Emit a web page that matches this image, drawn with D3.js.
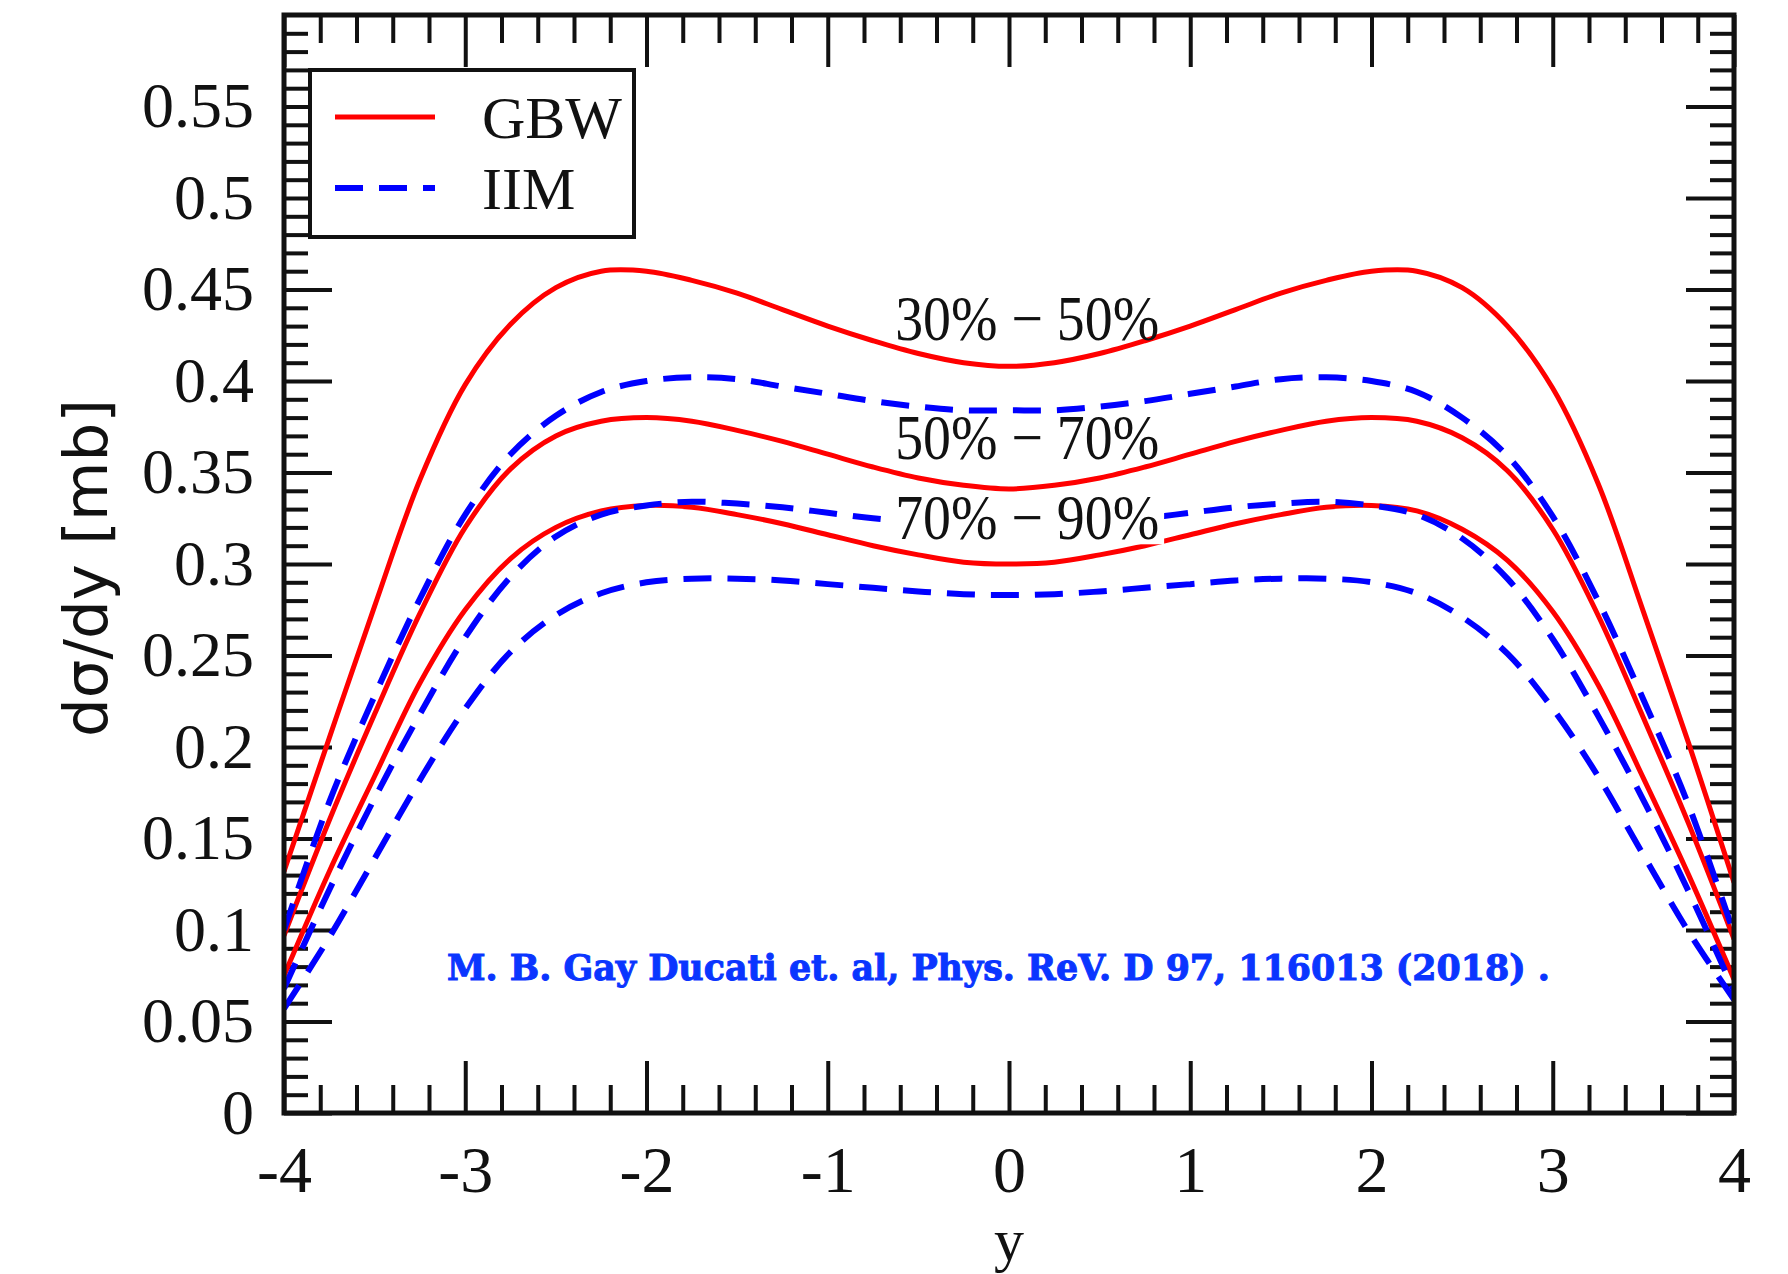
<!DOCTYPE html>
<html>
<head>
<meta charset="utf-8">
<script src="https://cdn.jsdelivr.net/npm/d3@7"></script>
<style>
  body { margin: 0; background: #fff; }
  svg { display: block; }
</style>
</head>
<body>
<div id="chart"></div>
<script>
var svgWidth = 1788;
var svgHeight = 1274;

// rapidity points
var rapidity = [-4, -3.75, -3.5, -3.25, -3, -2.75, -2.5, -2.25, -2, -1.75, -1.5, -1.25, -1, -0.75, -0.5, -0.25, 0,
  0.25, 0.5, 0.75, 1, 1.25, 1.5, 1.75, 2, 2.25, 2.5, 2.75, 3, 3.25, 3.5, 3.75, 4];

// GBW (solid red)
var gbw3050 = [0.132, 0.205, 0.277, 0.346, 0.398, 0.431, 0.451, 0.460, 0.460, 0.455, 0.448, 0.439, 0.430, 0.422, 0.415, 0.410, 0.408,
  0.410, 0.415, 0.422, 0.430, 0.439, 0.448, 0.455, 0.460, 0.460, 0.451, 0.430, 0.396, 0.344, 0.274, 0.202, 0.126];
var gbw5070 = [0.097, 0.160, 0.218, 0.273, 0.320, 0.352, 0.370, 0.378, 0.380, 0.378, 0.373, 0.367, 0.360, 0.353, 0.347, 0.343, 0.341,
  0.343, 0.347, 0.353, 0.360, 0.367, 0.373, 0.378, 0.380, 0.378, 0.369, 0.351, 0.319, 0.272, 0.216, 0.158, 0.095];
var gbw7090 = [0.075, 0.132, 0.184, 0.235, 0.275, 0.303, 0.320, 0.329, 0.332, 0.331, 0.327, 0.322, 0.316, 0.310, 0.305, 0.301, 0.300,
  0.301, 0.305, 0.310, 0.316, 0.322, 0.327, 0.331, 0.332, 0.329, 0.319, 0.302, 0.274, 0.234, 0.183, 0.130, 0.073];

// IIM (dashed blue)
var iim3050 = [0.100, 0.170, 0.228, 0.281, 0.327, 0.360, 0.381, 0.394, 0.400, 0.402, 0.401, 0.397, 0.393, 0.389, 0.386, 0.384, 0.384,
  0.384, 0.386, 0.389, 0.393, 0.397, 0.401, 0.402, 0.400, 0.394, 0.380, 0.359, 0.326, 0.280, 0.226, 0.168, 0.098];
var iim5070 = [0.068, 0.122, 0.172, 0.218, 0.260, 0.293, 0.315, 0.327, 0.332, 0.334, 0.333, 0.331, 0.328, 0.325, 0.323, 0.322, 0.322,
  0.322, 0.323, 0.325, 0.328, 0.331, 0.333, 0.334, 0.332, 0.327, 0.314, 0.292, 0.259, 0.217, 0.171, 0.121, 0.067];
var iim7090 = [0.057, 0.096, 0.139, 0.182, 0.221, 0.252, 0.272, 0.284, 0.290, 0.292, 0.292, 0.291, 0.289, 0.287, 0.285, 0.2835, 0.283,
  0.2835, 0.285, 0.287, 0.289, 0.291, 0.292, 0.292, 0.290, 0.284, 0.271, 0.251, 0.221, 0.184, 0.141, 0.099, 0.062];

var curves = [
  { model: "GBW", values: gbw3050 },
  { model: "GBW", values: gbw5070 },
  { model: "GBW", values: gbw7090 },
  { model: "IIM", values: iim3050 },
  { model: "IIM", values: iim5070 },
  { model: "IIM", values: iim7090 }
];

var xMajor = [-4, -3, -2, -1, 0, 1, 2, 3, 4];
var yMajor = [0, 0.05, 0.1, 0.15, 0.2, 0.25, 0.3, 0.35, 0.4, 0.45, 0.5, 0.55];
var yLabels = ["0", "0.05", "0.1", "0.15", "0.2", "0.25", "0.3", "0.35", "0.4", "0.45", "0.5", "0.55"];

var centralityLabels = ["30% \u2212 50%", "50% \u2212 70%", "70% \u2212 90%"];
var centralityY = [0.4225, 0.3575, 0.3135];

var legendNames = ["GBW", "IIM"];
var citation = "M. B. Gay Ducati et. al, Phys. ReV. D 97, 116013 (2018) .";

var plot = { left: 284, right: 1734, top: 15, bottom: 1113 };

var svg = d3.select("#chart")
  .append("svg")
  .attr("width", svgWidth)
  .attr("height", svgHeight);

var xScale = d3.scaleLinear().domain([-4, 4]).range([plot.left, plot.right]);
var yScale = d3.scaleLinear().domain([0, 0.6]).range([plot.bottom, plot.top]);

var xMinor = d3.range(-4, 4.001, 0.2).map(d => +d.toFixed(1)).filter(d => xMajor.indexOf(d) < 0);
var yMinor = d3.range(0, 0.6001, 0.01).map(d => +d.toFixed(2)).filter(d => Math.abs(d * 20 - Math.round(d * 20)) > 1e-6);

// ticks on all four sides, pointing inward
function tickAxis(axis, vals, size, transform) {
  var g = svg.append("g")
    .attr("transform", transform)
    .call(axis.tickValues(vals).tickSize(-size).tickFormat(""));
  g.select(".domain").remove();
  g.selectAll("line").attr("stroke", "#111").attr("stroke-width", 4);
  return g;
}

tickAxis(d3.axisBottom(xScale), xMinor, 28, `translate(0,${plot.bottom})`);
tickAxis(d3.axisBottom(xScale), xMajor, 52, `translate(0,${plot.bottom})`);
tickAxis(d3.axisTop(xScale), xMinor, 28, `translate(0,${plot.top})`);
tickAxis(d3.axisTop(xScale), xMajor, 52, `translate(0,${plot.top})`);
tickAxis(d3.axisLeft(yScale), yMinor, 24, `translate(${plot.left},0)`);
tickAxis(d3.axisLeft(yScale), yMajor, 48, `translate(${plot.left},0)`);
tickAxis(d3.axisRight(yScale), yMinor, 24, `translate(${plot.right},0)`);
tickAxis(d3.axisRight(yScale), yMajor, 48, `translate(${plot.right},0)`);

// labels
var bottomLabels = svg.append("g")
  .attr("transform", `translate(0,${plot.bottom})`)
  .call(d3.axisBottom(xScale).tickValues(xMajor).tickSize(0).tickPadding(32).tickFormat(d3.format("d")));
bottomLabels.select(".domain").remove();
bottomLabels.selectAll("text")
  .attr("font-family", "Liberation Serif")
  .attr("font-size", 66)
  .attr("fill", "#111")
  .text(d => d < 0 ? "-" + Math.abs(d) : d);

var leftLabels = svg.append("g")
  .attr("transform", `translate(${plot.left},0)`)
  .call(d3.axisLeft(yScale).tickValues(yMajor).tickSize(0).tickPadding(30).tickFormat((d, i) => yLabels[i]));
leftLabels.select(".domain").remove();
leftLabels.selectAll("text")
  .attr("font-family", "Liberation Serif")
  .attr("font-size", 64)
  .attr("fill", "#111");

// curves
svg.append("clipPath").attr("id", "clip")
  .append("rect")
  .attr("x", plot.left).attr("y", plot.top)
  .attr("width", plot.right - plot.left).attr("height", plot.bottom - plot.top);

var line = d3.line()
  .x((d, i) => xScale(rapidity[i]))
  .y(d => yScale(d))
  .curve(d3.curveCatmullRom.alpha(0.5));

svg.append("g")
  .attr("clip-path", "url(#clip)")
  .selectAll("path")
  .data(curves)
  .enter()
  .append("path")
  .attr("d", d => line(d.values))
  .attr("fill", "none")
  .attr("stroke", d => d.model == "GBW" ? "#ff0000" : "#0000ff")
  .attr("stroke-width", d => d.model == "GBW" ? 5 : 6)
  .attr("stroke-dasharray", d => d.model == "GBW" ? null : "28,16");

// frame
svg.append("rect")
  .attr("x", plot.left).attr("y", plot.top)
  .attr("width", plot.right - plot.left).attr("height", plot.bottom - plot.top)
  .attr("fill", "none")
  .attr("stroke", "#111")
  .attr("stroke-width", 5);

// centrality labels (the lowest one sits on a white patch over the dashed line)
svg.append("rect")
  .attr("x", xScale(0.1) - 137)
  .attr("y", yScale(centralityY[2]) - 44)
  .attr("width", 274)
  .attr("height", 49)
  .attr("fill", "#fff");

svg.selectAll(".cent")
  .data(centralityLabels)
  .enter()
  .append("text")
  .attr("class", "cent")
  .attr("x", xScale(0.1))
  .attr("y", (d, i) => yScale(centralityY[i]))
  .attr("text-anchor", "middle")
  .attr("font-family", "Liberation Serif")
  .attr("font-size", 64)
  .attr("textLength", 264)
  .attr("lengthAdjust", "spacingAndGlyphs")
  .attr("fill", "#111")
  .text(d => d);

// legend
var legend = svg.append("g");
legend.append("rect")
  .attr("x", 310).attr("y", 70)
  .attr("width", 324).attr("height", 167)
  .attr("fill", "#fff")
  .attr("stroke", "#111")
  .attr("stroke-width", 4);

legendNames.forEach(function(name, i) {
  var ly = 117 + i * 71;
  legend.append("line")
    .attr("x1", 335).attr("x2", 435)
    .attr("y1", ly).attr("y2", ly)
    .attr("stroke", name == "GBW" ? "#ff0000" : "#0000ff")
    .attr("stroke-width", name == "GBW" ? 5 : 6)
    .attr("stroke-dasharray", name == "GBW" ? null : "28,16");
  legend.append("text")
    .attr("x", 482)
    .attr("y", ly + 21)
    .attr("font-family", "Liberation Serif")
    .attr("font-size", 60)
    .attr("fill", "#111")
    .text(name);
});

// axis titles
svg.append("text")
  .attr("transform", "translate(107, 568) rotate(-90)")
  .attr("text-anchor", "middle")
  .attr("font-family", "DejaVu Sans")
  .attr("font-size", 61)
  .attr("fill", "#111")
  .text("d\u03c3/dy [mb]");

svg.append("text")
  .attr("x", xScale(0))
  .attr("y", 1260)
  .attr("text-anchor", "middle")
  .attr("font-family", "Liberation Serif")
  .attr("font-size", 60)
  .attr("fill", "#111")
  .text("y");

// citation
svg.append("text")
  .attr("x", 447)
  .attr("y", 980)
  .attr("font-family", "DejaVu Serif")
  .attr("font-weight", "bold")
  .attr("font-size", 35)
  .attr("textLength", 1103)
  .attr("lengthAdjust", "spacingAndGlyphs")
  .attr("fill", "#0a35ff")
  .attr("stroke", "#0a35ff")
  .attr("stroke-width", 1)
  .text(citation);
</script>
</body>
</html>
